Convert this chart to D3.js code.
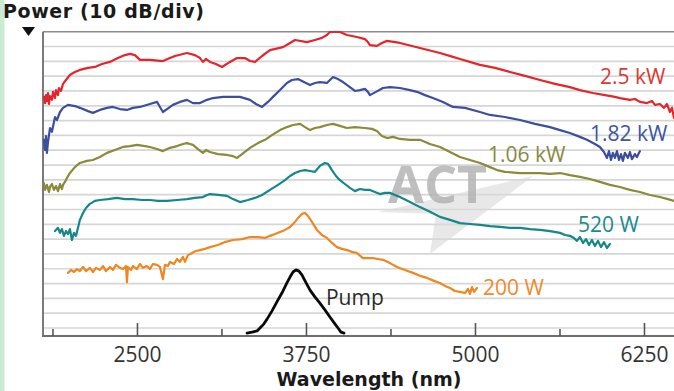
<!DOCTYPE html>
<html><head><meta charset="utf-8">
<script src="https://cdn.jsdelivr.net/npm/d3@7/dist/d3.min.js"></script>
<style>body{margin:0;background:#fff;} svg{display:block;font-family:"Open Sans",sans-serif;}</style>
</head><body>
<svg id="c" width="674" height="391"></svg>
<script>
// ---------- DATA (wavelength nm, relative power dB) ----------
const p2500W = [[1812,78.0],[1820,75.9],[1827,78.6],[1834,76.6],[1842,79.3],[1849,75.6],[1857,78.3],[1871,77.0],[1879,79.7],[1894,77.6],[1901,80.3],[1916,78.6],[1923,81.0],[1938,80.0],[1953,82.4],[1975,83.7],[2004,85.4],[2041,86.4],[2078,87.1],[2138,87.8],[2189,88.1],[2241,89.1],[2300,89.8],[2359,91.1],[2411,92.1],[2448,92.5],[2485,92.1],[2522,90.5],[2596,90.5],[2692,90.1],[2744,91.1],[2781,91.8],[2870,92.8],[2929,92.1],[2966,91.1],[2988,89.8],[3010,90.8],[3040,89.8],[3084,89.1],[3129,88.1],[3188,89.8],[3240,91.1],[3299,91.1],[3336,90.1],[3373,89.8],[3425,91.8],[3484,93.8],[3580,94.8],[3632,96.2],[3669,97.2],[3757,96.5],[3816,97.2],[3868,97.9],[3905,98.9],[3927,99.9],[4001,99.9],[4053,98.9],[4127,98.2],[4186,97.5],[4208,96.5],[4223,95.5],[4275,95.2],[4312,96.2],[4349,96.9],[4445,96.2],[4593,94.5],[4741,92.8],[4837,91.5],[4889,90.8],[5037,88.8],[5148,87.8],[5259,86.4],[5370,85.1],[5481,83.7],[5592,82.4],[5702,81.3],[5776,80.3],[5872,79.3],[5961,78.6],[6035,78.0],[6072,77.6],[6146,77.0],[6183,77.3],[6220,76.3],[6272,75.9],[6309,76.6],[6331,75.3],[6368,75.6],[6398,74.3],[6420,75.6],[6442,72.9],[6457,74.3],[6472,70.9]];
const p1820W = [[1812,63.5],[1820,60.1],[1827,64.8],[1834,59.1],[1842,62.8],[1857,67.5],[1871,66.2],[1894,71.2],[1908,70.2],[1931,72.9],[1953,74.3],[1990,75.3],[2041,74.9],[2078,74.3],[2138,73.2],[2174,72.6],[2226,73.6],[2278,74.3],[2322,74.6],[2374,73.9],[2426,73.6],[2470,74.3],[2522,74.6],[2596,75.6],[2648,76.3],[2670,74.6],[2692,72.9],[2722,73.9],[2766,75.3],[2818,76.3],[2870,77.0],[2914,75.9],[2966,75.9],[3018,77.0],[3062,77.6],[3136,78.0],[3210,78.0],[3262,78.0],[3336,77.0],[3380,75.6],[3425,74.6],[3469,76.3],[3506,78.0],[3558,80.3],[3609,82.7],[3646,83.7],[3691,84.0],[3735,83.0],[3780,82.0],[3816,82.7],[3853,83.0],[3905,82.7],[3950,84.7],[3987,84.0],[4024,83.0],[4075,81.3],[4112,80.0],[4149,80.3],[4186,80.7],[4208,79.7],[4223,78.6],[4268,79.7],[4319,81.0],[4371,81.3],[4445,81.0],[4519,80.3],[4571,79.7],[4630,78.6],[4689,77.6],[4763,76.3],[4837,74.6],[4926,74.3],[5037,72.9],[5111,71.9],[5222,71.2],[5333,70.2],[5444,68.9],[5555,67.8],[5629,66.8],[5702,65.8],[5776,64.5],[5828,63.5],[5887,62.1],[5924,61.1],[5954,59.4],[5976,57.4],[5991,59.7],[6006,56.7],[6020,59.1],[6035,57.4],[6050,59.7],[6065,56.7],[6080,58.7],[6094,56.4],[6109,59.1],[6131,57.4],[6146,59.4],[6161,57.0],[6183,58.7],[6198,57.7],[6220,59.7]];
const p1060W = [[1812,48.9],[1820,46.6],[1834,48.3],[1849,45.9],[1857,47.6],[1871,48.6],[1886,46.6],[1901,47.9],[1916,46.2],[1931,48.6],[1945,46.9],[1953,48.3],[1967,49.3],[1982,50.6],[2004,52.3],[2041,54.3],[2078,55.7],[2130,56.4],[2174,56.7],[2226,57.7],[2278,59.1],[2337,60.1],[2396,61.1],[2448,61.4],[2500,61.8],[2559,61.4],[2596,61.1],[2648,60.4],[2692,59.7],[2744,60.8],[2796,61.4],[2840,62.1],[2870,62.4],[2892,62.1],[2914,61.8],[2951,60.4],[2988,59.1],[3010,60.1],[3040,59.4],[3099,58.7],[3166,58.4],[3203,58.1],[3240,57.4],[3277,58.7],[3336,60.8],[3395,62.4],[3447,63.5],[3498,65.1],[3558,66.8],[3609,67.8],[3654,68.5],[3706,68.9],[3743,67.8],[3780,66.8],[3816,67.5],[3853,67.8],[3905,68.5],[3950,68.9],[4001,68.2],[4053,67.5],[4112,67.8],[4186,67.5],[4238,67.2],[4275,66.5],[4312,64.8],[4349,64.1],[4393,64.5],[4445,63.8],[4519,63.5],[4593,63.5],[4667,62.1],[4741,61.1],[4815,59.4],[4889,57.7],[4963,56.7],[5037,55.7],[5111,54.3],[5163,53.3],[5222,52.7],[5333,52.3],[5407,52.3],[5481,52.3],[5555,52.0],[5629,52.3],[5702,51.6],[5776,51.0],[5850,50.3],[5924,49.3],[5998,48.3],[6072,47.6],[6146,46.6],[6220,45.9],[6294,44.9],[6368,44.2],[6427,43.5],[6472,42.9]];
const p520W = [[1894,32.7],[1916,33.8],[1931,32.1],[1945,33.4],[1960,31.1],[1975,32.7],[1990,31.7],[2004,33.4],[2019,29.7],[2034,32.1],[2049,31.1],[2064,33.8],[2078,36.5],[2101,38.8],[2123,40.5],[2152,41.9],[2189,42.9],[2226,43.2],[2286,43.5],[2352,43.9],[2411,43.5],[2470,43.5],[2537,43.2],[2596,43.2],[2655,42.9],[2722,42.9],[2796,43.2],[2870,43.5],[2929,43.9],[2988,44.2],[3018,44.9],[3040,45.2],[3099,44.9],[3166,44.6],[3210,43.5],[3262,42.5],[3321,43.2],[3373,43.9],[3425,44.9],[3484,46.6],[3543,48.3],[3595,49.9],[3632,51.3],[3669,52.3],[3706,53.0],[3743,53.3],[3780,53.0],[3816,52.7],[3853,54.7],[3890,55.7],[3913,55.4],[3942,53.3],[3972,51.3],[4001,49.9],[4038,48.6],[4075,47.3],[4112,46.2],[4149,46.9],[4186,46.6],[4223,46.6],[4260,45.9],[4297,45.2],[4334,45.6],[4371,45.6],[4408,44.9],[4445,44.2],[4519,42.5],[4593,40.8],[4667,39.2],[4741,37.5],[4815,36.5],[4889,35.4],[4963,35.1],[5037,34.8],[5111,34.4],[5185,34.1],[5259,33.8],[5333,33.8],[5407,33.4],[5481,33.1],[5555,32.7],[5629,32.1],[5666,31.4],[5702,31.1],[5732,30.4],[5754,29.4],[5776,30.7],[5799,28.7],[5821,30.0],[5843,28.0],[5865,29.7],[5887,27.7],[5910,29.4],[5932,27.3],[5954,29.0],[5976,27.0],[5998,28.4]];
const p200W = [[1990,18.6],[2012,19.6],[2034,18.9],[2056,19.9],[2078,19.2],[2101,20.6],[2123,19.2],[2152,20.3],[2175,18.9],[2197,20.3],[2226,19.6],[2249,20.9],[2271,19.2],[2300,20.6],[2322,19.6],[2345,21.3],[2374,20.3],[2396,19.9],[2419,20.9],[2426,15.5],[2433,20.6],[2456,19.6],[2470,20.9],[2500,19.9],[2522,21.6],[2544,20.3],[2574,20.9],[2596,19.9],[2618,21.6],[2648,21.3],[2670,20.6],[2692,16.5],[2707,21.3],[2729,20.9],[2744,22.3],[2774,21.6],[2796,23.3],[2818,22.3],[2840,24.0],[2855,22.3],[2877,24.6],[2907,25.3],[2936,26.0],[2966,26.3],[3003,26.7],[3040,27.3],[3099,28.0],[3151,29.0],[3210,29.7],[3277,30.0],[3336,30.7],[3395,30.7],[3447,30.4],[3484,31.1],[3521,31.7],[3558,32.4],[3595,33.1],[3632,34.1],[3661,35.4],[3691,37.1],[3720,38.5],[3743,38.8],[3765,37.8],[3794,35.8],[3831,33.1],[3868,31.4],[3905,30.4],[3942,28.7],[3979,27.3],[4016,26.7],[4053,26.3],[4090,25.7],[4127,25.3],[4171,23.6],[4208,23.6],[4245,23.6],[4282,23.3],[4319,23.0],[4371,21.9],[4423,20.6],[4482,19.6],[4541,18.6],[4593,17.6],[4645,16.9],[4697,15.9],[4741,15.2],[4778,14.2],[4815,13.5],[4852,12.5],[4889,12.2],[4926,11.8],[4948,13.2],[4963,11.5],[4978,13.8],[4993,12.2],[5015,13.5]];
const pPump = [[3314,-1.7],[3351,-1.4],[3388,-1.0],[3410,0.0],[3439,1.4],[3462,3.0],[3498,5.7],[3535,8.8],[3572,11.8],[3609,15.2],[3632,17.2],[3654,18.9],[3676,19.6],[3698,19.2],[3720,17.9],[3743,15.9],[3780,12.8],[3816,10.5],[3853,8.4],[3890,6.1],[3927,3.7],[3964,1.4],[3987,0.0],[4009,-1.4],[4031,-1.7]];

const seriesData = [p2500W, p1820W, p1060W, p520W, p200W, pPump];
const seriesNames = ["2.5 kW", "1.82 kW", "1.06 kW", "520 W", "200 W", "Pump"];
const labelAnchors = [[5924,82.4],[5850,63.1],[5096,56.0],[5762,32.4],[5059,11.1],[3898,7.8]];
const majorTicks = [2500, 3750, 5000, 6250];
const minorTicks = [1875, 3125, 4375, 5625];
const gridLevels = [0,5,10,15,20,25,30,35,40,45,50,55,60,65,70,75,80,85,90,95];
const yTitle = "Power (10 dB/div)";
const xTitle = "Wavelength (nm)";

// ---------- STYLE ----------
const lineColors = ["#e3262d", "#3b4f9e", "#8a8a38", "#15878a", "#f08620", "#0a0a0a"];
const textColors = ["#d93a35", "#3d55a3", "#878a45", "#1b8a8c", "#f08a2c", "#2a2a2a"];
const lineWidths = [2.2, 2.2, 2.2, 2.2, 2.2, 2.8];
const boldFont = "DejaVu Sans";

const svg = d3.select("#c");
const W = 674, H = 391;
const plotL = 43, plotR = 674, plotTop = 31.7, plotBottom = 336;

svg.append("rect").attr("x",0).attr("y",0).attr("width",W).attr("height",H).attr("fill","#fff");
svg.append("rect").attr("x",0).attr("y",0).attr("width",4.5).attr("height",H).attr("fill","#c9ecd2");

const x = d3.scaleLinear().domain([1805, 6472]).range([plotL, plotR]);
const y = d3.scaleLinear().domain([0, 100]).range([328, plotTop]);

// gridlines
svg.append("g").selectAll("line").data(gridLevels).join("line")
  .attr("x1", plotL).attr("x2", plotR)
  .attr("y1", d => y(d)).attr("y2", d => y(d))
  .attr("stroke", "#d6d6d6").attr("stroke-width", 1.7);
// top border
svg.append("line").attr("x1", plotL).attr("x2", plotR).attr("y1", y(100)).attr("y2", y(100))
  .attr("stroke", "#8c8c8c").attr("stroke-width", 1.4);

// watermark
const wm = svg.append("g");
wm.append("path").attr("d", "M378,212 L533,176 L430,254 L436,214 Z").attr("fill", "#d9d9d9").attr("opacity", 0.6);
wm.append("text").attr("x", 388).attr("y", 203).text("ACT")
  .attr("font-family", "Open Sans").attr("font-weight", 700).attr("font-size", 52)
  .attr("fill", "#b4b4b4").attr("opacity", 0.85);

// axes
svg.append("line").attr("x1", plotL).attr("x2", plotL).attr("y1", plotTop).attr("y2", plotBottom)
  .attr("stroke", "#7a7a7a").attr("stroke-width", 2);
svg.append("line").attr("x1", plotL - 1).attr("x2", plotR).attr("y1", plotBottom).attr("y2", plotBottom)
  .attr("stroke", "#6e6e6e").attr("stroke-width", 2);

const axMajor = d3.axisBottom(x).tickValues(majorTicks).tickSize(-13).tickPadding(16).tickFormat(d3.format("d"));
const gMaj = svg.append("g").attr("transform", `translate(0,${plotBottom})`).call(axMajor);
gMaj.select(".domain").remove();
gMaj.selectAll("line").attr("stroke", "#555").attr("stroke-width", 1.6);
gMaj.selectAll("text").attr("font-family", "Open Sans").attr("font-size", 21).attr("fill", "#333")
  .attr("dy", null).attr("y", 25.5);

const axMinor = d3.axisBottom(x).tickValues(minorTicks).tickSize(-7).tickFormat("");
const gMin = svg.append("g").attr("transform", `translate(0,${plotBottom})`).call(axMinor);
gMin.select(".domain").remove();
gMin.selectAll("line").attr("stroke", "#555").attr("stroke-width", 1.6);

// series lines
const line = d3.line().x(d => x(d[0])).y(d => y(d[1])).curve(d3.curveLinear);
svg.append("g").selectAll("path").data(seriesData).join("path")
  .attr("d", line).attr("fill", "none")
  .attr("stroke", (d, i) => lineColors[i]).attr("stroke-width", (d, i) => lineWidths[i])
  .attr("stroke-linejoin", "round").attr("stroke-linecap", "round");

// series labels
svg.append("g").selectAll("text").data(seriesNames).join("text")
  .attr("x", (d, i) => x(labelAnchors[i][0])).attr("y", (d, i) => y(labelAnchors[i][1]))
  .text(d => d).attr("font-family", "Open Sans").attr("font-size", 21)
  .attr("fill", (d, i) => textColors[i]);

// titles
svg.append("text").attr("x", 3).attr("y", 18).text(yTitle)
  .attr("font-family", boldFont).attr("font-weight", 700).attr("font-size", 19)
  .attr("letter-spacing", 0.6).attr("fill", "#1a1a1a");
svg.append("path").attr("d", "M22,27 L35,27 L28.5,36 Z").attr("fill", "#111");
svg.append("text").attr("x", 369).attr("y", 386).attr("text-anchor", "middle").text(xTitle)
  .attr("font-family", boldFont).attr("font-weight", 700).attr("font-size", 19)
  .attr("fill", "#1a1a1a");
</script>
</body></html>
